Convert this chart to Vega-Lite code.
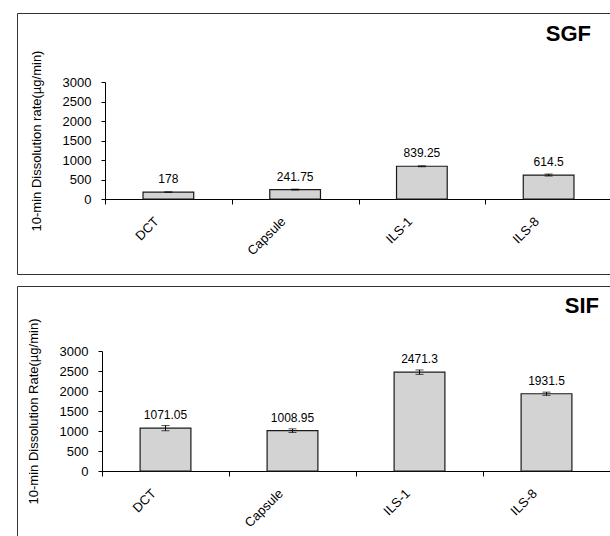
{
  "$schema": "https://vega.github.io/schema/vega-lite/v6.json",
  "padding": {"left": 12, "top": 12, "right": 0, "bottom": 0},
  "background": "white",
  "spacing": 10,
  "config": {
    "view": {"stroke": "#333333", "strokeWidth": 1},
    "font": "Liberation Sans",
    "axis": {
      "grid": false,
      "domainColor": "#000000",
      "tickColor": "#000000",
      "labelColor": "#000000",
      "titleColor": "#000000",
      "labelFont": "Liberation Sans",
      "titleFont": "Liberation Sans",
      "titleFontWeight": "normal"
    },
    "title": {"font": "Liberation Sans", "fontWeight": "bold", "color": "#000000"}
  },
  "datasets": {
    "sgf": [
      {"formulation": "DCT", "rate": 178, "err": 4},
      {"formulation": "Capsule", "rate": 241.75, "err": 12},
      {"formulation": "ILS-1", "rate": 839.25, "err": 12},
      {"formulation": "ILS-8", "rate": 614.5, "err": 25}
    ],
    "sif": [
      {"formulation": "DCT", "rate": 1071.05, "err": 65},
      {"formulation": "Capsule", "rate": 1008.95, "err": 45},
      {"formulation": "ILS-1", "rate": 2471.3, "err": 55},
      {"formulation": "ILS-8", "rate": 1931.5, "err": 40}
    ]
  },
  "vconcat": [
    {
      "width": 610,
      "height": 261,
      "title": {"text": "SGF", "anchor": "end", "frame": "group", "offset": -33, "dx": -36, "fontSize": 22},
      "data": {"name": "sgf"},
      "encoding": {
        "x": {
          "field": "formulation", "type": "nominal", "sort": null,
          "scale": {"range": [88, 595], "paddingInner": 0, "paddingOuter": 0},
          "axis": {"title": null, "offset": -75, "tickBand": "extent", "tickSize": 5, "labelAngle": -45, "labelAlign": "right", "labelBaseline": "middle", "labelPadding": 15, "labelOffset": -12, "labelFontSize": 13}
        },
        "y": {
          "field": "rate", "type": "quantitative",
          "scale": {"domain": [0, 3000], "range": [186, 69]},
          "axis": {"values": [0, 500, 1000, 1500, 2000, 2500, 3000], "format": "d", "offset": -88, "tickSize": 4, "labelPadding": 10, "labelFontSize": 13, "title": "10-min Dissolution rate(µg/min)", "titleFontSize": 13, "titlePadding": 19}
        }
      },
      "layer": [
        {"mark": {"type": "bar", "width": {"band": 0.4}, "fill": "#d3d3d3", "stroke": "#1a1a1a", "strokeWidth": 1.2}},
        {"mark": {"type": "errorbar", "color": "#000000", "ticks": {"size": 8, "color": "#000000"}, "rule": {"color": "#000000"}}, "encoding": {"yError": {"field": "err"}}},
        {"mark": {"type": "text", "baseline": "alphabetic", "dy": -9, "fontSize": 12, "color": "#000000"}, "encoding": {"text": {"field": "rate", "type": "quantitative", "format": ".6~g"}}}
      ]
    },
    {
      "width": 610,
      "height": 260,
      "title": {"text": "SIF", "anchor": "end", "frame": "group", "offset": -32, "dx": -28, "fontSize": 22},
      "data": {"name": "sif"},
      "encoding": {
        "x": {
          "field": "formulation", "type": "nominal", "sort": null,
          "scale": {"range": [85, 593], "paddingInner": 0, "paddingOuter": 0},
          "axis": {"title": null, "offset": -75, "tickBand": "extent", "tickSize": 5, "labelAngle": -45, "labelAlign": "right", "labelBaseline": "middle", "labelPadding": 15, "labelOffset": -12, "labelFontSize": 13}
        },
        "y": {
          "field": "rate", "type": "quantitative",
          "scale": {"domain": [0, 3000], "range": [185, 65]},
          "axis": {"values": [0, 500, 1000, 1500, 2000, 2500, 3000], "format": "d", "offset": -85, "tickSize": 4, "labelPadding": 10, "labelFontSize": 13, "title": "10-min Dissolution Rate(µg/min)", "titleFontSize": 13, "titlePadding": 19}
        }
      },
      "layer": [
        {"mark": {"type": "bar", "width": {"band": 0.4}, "fill": "#d3d3d3", "stroke": "#1a1a1a", "strokeWidth": 1.2}},
        {"mark": {"type": "errorbar", "color": "#000000", "ticks": {"size": 8, "color": "#000000"}, "rule": {"color": "#000000"}}, "encoding": {"yError": {"field": "err"}}},
        {"mark": {"type": "text", "baseline": "alphabetic", "dy": -9, "fontSize": 12, "color": "#000000"}, "encoding": {"text": {"field": "rate", "type": "quantitative", "format": ".6~g"}}}
      ]
    }
  ]
}
